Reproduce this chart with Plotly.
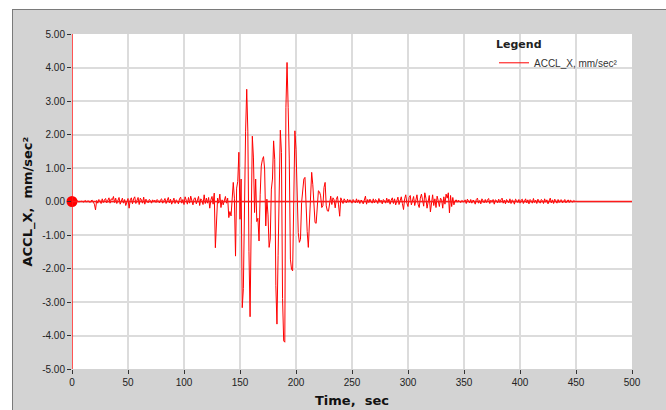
import plotly.graph_objects as go

# Acceleration samples (mm/sec^2), 1 s sampling
t0_pre = 0
accl_pre = [
    0.00, 0.01, 0.00, -0.01, 0.01, 0.02, -0.01, 0.00, 0.02, 0.01,
    -0.02, 0.01, 0.03, -0.02, 0.02, 0.01, -0.03, 0.02, 0.04, -0.02,
    -0.08, -0.25, 0.03, -0.05, 0.06, 0.02, -0.06, 0.08, -0.03, 0.05,
    0.09, -0.04, 0.06, 0.11, -0.05, 0.08, 0.05, 0.15, -0.03, 0.10,
    -0.06, 0.07, 0.12, -0.08, 0.04, 0.10, -0.05, 0.06, -0.12, 0.03,
    0.09, -0.20, 0.05, 0.11, -0.07, 0.08, 0.14, -0.06, 0.03, 0.12,
    -0.09, 0.10, 0.05, -0.05, 0.13, -0.08, 0.07, 0.02, -0.04, 0.06,
    0.03, -0.05, 0.05, 0.00, 0.04, -0.03, 0.06, 0.02, -0.04, 0.05,
    0.08, -0.05, 0.03, 0.09, -0.06, 0.05, 0.12, -0.04, 0.07, -0.08,
    0.04, 0.10, -0.06, 0.05, 0.02, -0.07, 0.08, 0.13, -0.05, 0.06,
    -0.09, 0.14, 0.04, -0.08, 0.12, -0.05, 0.16, 0.03, -0.10, 0.09,
    0.11, -0.07, 0.06, 0.15, -0.12, 0.08, 0.03, -0.09, 0.20, -0.06,
]

t0_strong = 120
accl_strong = [
    0.10, -0.05, 0.12, -0.20, 0.05, 0.15, -0.08, 0.25, -1.38, -0.35,
    0.10, -0.05, 0.22, -0.18, 0.05, -0.10, 0.08, 0.15, -0.05, 0.10,
    -0.48, -0.30, -0.43, 0.30, 0.57, 0.10, -1.63, 0.40, 0.60, 1.47,
    -0.53, 0.67, -3.17, -2.60, 0.77, 2.10, 3.35, 2.10, -1.50, -3.44,
    -0.70, 1.95, 1.30, -0.33, 0.67, -0.60, -0.50, -1.18, 0.20, 1.06,
    1.25, 1.34, 0.97, -0.73, 0.07, -0.40, -1.37, -1.12, 0.37, 0.67,
    1.81, 1.26, -2.50, -3.66, -1.62, 0.47, 2.13, 1.46, -2.90, -4.16,
    -4.20, 2.80, 4.15, 2.80, 1.27, -1.72, -2.02, -2.07, -0.03, 2.11,
    1.56, 0.27, -0.93, -1.22, -1.13, -0.03, 0.30, 0.67, 0.72, -0.43,
    -0.90, -1.37, -0.50, 0.07, 0.87, 0.50, 0.07, -0.63, -0.65, -0.23,
    0.32, 0.29, 0.17, -0.18, -0.13, 0.42, 0.57, -0.13, -0.28, -0.29,
    0.01, 0.16, -0.09, 0.11, 0.05, -0.19, 0.06, 0.15, -0.10, -0.44,
]

t0_coda = 240
accl_coda = [
    0.11, 0.04, -0.06, 0.08, 0.02, -0.04, 0.07, -0.02, 0.05, 0.03,
    -0.05, 0.06, 0.01, -0.04, 0.08, -0.03, 0.05, -0.06, 0.04, 0.02,
    -0.07, 0.05, 0.16, -0.08, 0.06, -0.03, 0.07, 0.01, -0.05, 0.08,
    -0.04, 0.06, 0.03, -0.06, 0.09, -0.02, 0.04, -0.07, 0.06, 0.02,
    -0.05, 0.10, -0.03, 0.07, -0.08, 0.04, 0.11, -0.06, 0.08, -0.10,
    0.06, 0.13, -0.09, 0.05, 0.14, -0.06, -0.24, 0.08, 0.20, -0.05,
    -0.15, 0.12, 0.18, -0.10, 0.06, 0.15, -0.12, 0.04, 0.20, -0.08,
    -0.18, 0.10, 0.22, 0.05, -0.14, 0.26, 0.10, -0.20, -0.05, 0.18,
    -0.31, 0.05, 0.20, -0.12, 0.08, -0.18, 0.16, 0.02, -0.15, 0.10,
    0.06, -0.20, 0.14, -0.08, 0.22, 0.10, 0.26, -0.34, 0.18, -0.15,
]

t0_tail = 340
accl_tail = [
    0.12, -0.10, 0.02, 0.05, -0.02, 0.04, 0.01, -0.03, 0.03, 0.00,
    -0.02, 0.05, -0.06, 0.07, 0.03, -0.04, 0.06, -0.05, 0.04, 0.02,
    -0.08, 0.06, 0.10, -0.05, 0.03, -0.07, 0.08, 0.02, -0.04, 0.06,
    -0.03, 0.05, 0.09, -0.06, 0.04, -0.02, 0.06, -0.08, 0.05, 0.03,
    -0.04, 0.07, -0.03, 0.05, 0.10, -0.05, 0.04, -0.07, 0.06, 0.01,
    -0.04, 0.08, -0.06, 0.05, 0.02, -0.08, 0.07, 0.04, -0.03, 0.06,
    -0.05, 0.04, 0.07, -0.06, 0.03, 0.08, -0.04, 0.05, -0.07, 0.06,
    0.02, -0.05, 0.09, -0.03, 0.04, -0.06, 0.07, 0.01, -0.05, 0.06,
    0.03, -0.06, 0.08, -0.02, 0.05, -0.07, 0.04, 0.10, -0.04, 0.05,
    -0.06, 0.07, 0.02, -0.05, 0.06, -0.03, 0.04, 0.05, -0.04, 0.03,
    0.06, -0.04, 0.02, 0.05, -0.03, 0.04, 0.01, -0.02, 0.03, 0.00,
]

x_ticks = [0, 50, 100, 150, 200, 250, 300, 350, 400, 450, 500]
y_ticks = [5, 4, 3, 2, 1, 0, -1, -2, -3, -4, -5]
x_range = [0, 500]
y_range = [-5, 5]

segments = [(t0_pre, accl_pre), (t0_strong, accl_strong),
            (t0_coda, accl_coda), (t0_tail, accl_tail)]
time = []
accl = []
for start, vals in segments:
    time += [start + i for i in range(len(vals))]
    accl += vals

W, H = 666, 410
ML, MR, MT, MB = 72, 34, 34, 41
PW, PH = W - ML - MR, H - MT - MB


def px(x):
    return (x - ML) / PW


def py(y):
    return (H - MB - y) / PH


fig = go.Figure()
fig.add_trace(go.Scatter(
    x=time, y=accl, mode="lines", name="ACCL_X, mm/sec²",
    line=dict(color="#ff0000", width=1),
))
fig.add_trace(go.Scatter(
    x=[time[0]], y=[accl[0]], mode="markers", showlegend=False,
    marker=dict(color="#ff0000", size=11), cliponaxis=False,
))

shapes = [
    # white page margin outside the grey frame
    dict(type="rect", xref="paper", yref="paper", x0=-0.3, x1=1.3,
         y0=py(9), y1=py(-20), fillcolor="white", line_width=0, layer="below"),
    dict(type="rect", xref="paper", yref="paper", x0=-0.3, x1=px(12),
         y0=py(430), y1=py(-20), fillcolor="white", line_width=0, layer="below"),
    dict(type="line", xref="paper", yref="paper", x0=px(12), x1=1.3,
         y0=py(9.5), y1=py(9.5), line=dict(color="#7a7a7a", width=1)),
    dict(type="line", xref="paper", yref="paper", x0=px(12.5), x1=px(12.5),
         y0=py(9), y1=py(430), line=dict(color="#7a7a7a", width=1)),
    # red zero baseline across the full x range
    dict(type="line", xref="x", yref="y", x0=x_range[0], x1=x_range[1],
         y0=0, y1=0, line=dict(color="#ff1a1a", width=1.5), layer="above"),
    # red left axis line
    dict(type="line", xref="x", yref="y", x0=x_range[0], x1=x_range[0],
         y0=y_range[0], y1=y_range[1], line=dict(color="#ff1a1a", width=1.5),
         layer="above"),
]

fig.update_layout(
    width=W, height=H,
    margin=dict(l=ML, r=MR, t=MT, b=MB, pad=0),
    paper_bgcolor="#d3d3d3", plot_bgcolor="white",
    shapes=shapes,
    font=dict(family="Liberation Sans, Arial", size=10, color="#222"),
    showlegend=True,
    legend=dict(
        x=px(494), y=1.0, xanchor="left", yanchor="top",
        bgcolor="rgba(0,0,0,0)", borderwidth=0,
        title=dict(text="<b>Legend</b>",
                   font=dict(family="DejaVu Sans", size=11, color="#222")),
        font=dict(family="Liberation Sans, Arial", size=10, color="#333"),
    ),
    xaxis=dict(
        range=x_range, tickvals=x_ticks, ticktext=[str(v) for v in x_ticks],
        showgrid=True, gridcolor="#dcdcdc", gridwidth=1.5,
        zeroline=False, showline=False,
        ticks="outside", ticklen=4, tickcolor="#333", tickwidth=1,
        tickfont=dict(family="Liberation Sans, Arial", size=10, color="#222"),
    ),
    yaxis=dict(
        range=y_range, tickvals=y_ticks, ticktext=[f"{v:.2f}" for v in y_ticks],
        showgrid=True, gridcolor="#dcdcdc", gridwidth=1.5,
        zeroline=False, showline=False,
        ticks="outside", ticklen=4, tickcolor="#333", tickwidth=1,
        tickfont=dict(family="Liberation Sans, Arial", size=10, color="#222"),
    ),
    annotations=[
        dict(text="<b>ACCL_X,  mm/sec²</b>", xref="paper", yref="paper",
             x=px(27), y=0.5, xanchor="center", yanchor="middle",
             textangle=-90, showarrow=False,
             font=dict(family="DejaVu Sans", size=13, color="#111")),
        dict(text="<b>Time,  sec</b>", xref="paper", yref="paper",
             x=0.5, y=py(400), xanchor="center", yanchor="middle",
             showarrow=False,
             font=dict(family="DejaVu Sans", size=13, color="#111")),
    ],
)

fig.write_html(
    "out.html",
    config={"displayModeBar": False},
    post_script="document.body.style.margin='0';document.body.style.overflow='hidden';",
)
